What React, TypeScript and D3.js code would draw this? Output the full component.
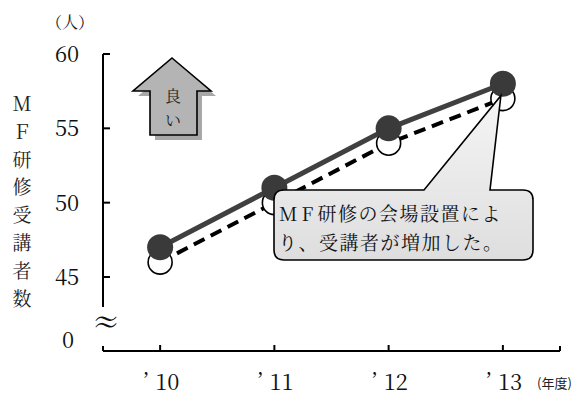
import React from "react";
import * as d3 from "d3";

// 年度ラベルと受講者数（人）
const years = ["10", "11", "12", "13"];
const attendees = [47, 51, 55, 58]; // 実線・黒丸
const baseline = [46, 50, 54, 57]; // 破線・白丸
const yTicks = [45, 50, 55, 60];
const yTitleChars = ["Ｍ", "Ｆ", "研", "修", "受", "講", "者", "数"];
const calloutLines = ["研修の会場設置によ", "り、受講者が増加した。"];

const W = 584;
const H = 398;
const MINCHO = "Noto Serif CJK JP, Liberation Serif, serif";
const GOTHIC = "Noto Sans CJK JP, Liberation Sans, sans-serif";

export default function App() {
  const x = d3.scalePoint<string>().domain(years).range([103, 560]).padding(0.5);
  const y = d3.scaleLinear().domain([45, 60]).range([277, 54]);

  const line = d3
    .line<number>()
    .x((_, i) => x(years[i]) as number)
    .y((d) => y(d));

  const axisY = 351;
  const tipX = (x(years[3]) as number) - 2;
  const tipY = y(attendees[3]) + 12;

  // 吹き出し（角丸四角形＋先端）
  const bx0 = 274, bx1 = 533, by0 = 190, by1 = 260, r = 10;
  const calloutPath = [
    `M${bx0 + r},${by0}`,
    `L424,${by0}`,
    `L${tipX},${tipY}`,
    `L490,${by0}`,
    `L${bx1 - r},${by0}`,
    `Q${bx1},${by0} ${bx1},${by0 + r}`,
    `L${bx1},${by1 - r}`,
    `Q${bx1},${by1} ${bx1 - r},${by1}`,
    `L${bx0 + r},${by1}`,
    `Q${bx0},${by1} ${bx0},${by1 - r}`,
    `L${bx0},${by0 + r}`,
    `Q${bx0},${by0} ${bx0 + r},${by0}`,
    "Z",
  ].join(" ");

  // 「良い」矢印
  const arrowPts: [number, number][] = [
    [172, 58],
    [211, 91],
    [197, 91],
    [197, 135],
    [150, 135],
    [150, 91],
    [133, 91],
  ];
  const arrowPath = "M" + arrowPts.map((p) => p.join(",")).join(" L") + " Z";
  const shadowPath =
    "M" + arrowPts.map((p) => [p[0] + 5, p[1] + 5].join(",")).join(" L") + " Z";

  const mincho = { fontFamily: MINCHO };
  const gothic = { fontFamily: GOTHIC };

  return (
    <svg
      width={W}
      height={H}
      viewBox={`0 0 ${W} ${H}`}
      style={{ position: "absolute", left: 0, top: 0, background: "#fff" }}
    >
      <defs>
        <linearGradient id="calloutFill" x1="0" y1="0" x2="0" y2="1">
          <stop offset="0" stopColor="#f5f5f5" />
          <stop offset="1" stopColor="#dedede" />
        </linearGradient>
      </defs>

      {/* 単位 */}
      <text x={70} y={28} style={mincho} fontSize={16} textAnchor="middle" fill="#111">
        （人）
      </text>

      {/* 縦軸タイトル */}
      {yTitleChars.map((c, i) => (
        <text
          key={c + i}
          x={22}
          y={111 + i * 27.8}
          style={mincho}
          fontSize={19}
          textAnchor="middle"
          fill="#222"
        >
          {c}
        </text>
      ))}

      {/* 縦軸 */}
      <line x1={103} x2={103} y1={y(60)} y2={307} stroke="#000" strokeWidth={2} />
      {yTicks.map((t) => (
        <g key={t}>
          <line x1={103} x2={110} y1={y(t)} y2={y(t)} stroke="#000" strokeWidth={2} />
          <text x={67} y={y(t) + 8} style={mincho} fontSize={22} textAnchor="middle" fill="#111">
            {t}
          </text>
        </g>
      ))}
      <text x={106} y={333} style={mincho} fontSize={30} textAnchor="middle" fill="#111">
        ≈
      </text>
      <text x={68} y={348} style={mincho} fontSize={22} textAnchor="middle" fill="#111">
        0
      </text>

      {/* 横軸 */}
      <line x1={103} x2={560} y1={axisY} y2={axisY} stroke="#000" strokeWidth={2} />
      <line x1={103} x2={103} y1={axisY - 5} y2={axisY} stroke="#000" strokeWidth={2} />
      <line x1={560} x2={560} y1={axisY - 5} y2={axisY} stroke="#000" strokeWidth={2} />
      {years.map((yr) => (
        <g key={yr}>
          <line x1={x(yr)} x2={x(yr)} y1={axisY - 6} y2={axisY} stroke="#000" strokeWidth={2} />
          <text x={(x(yr) as number) - 17} y={389} style={mincho} fontSize={22} fill="#111">
            ’
          </text>
          <text x={(x(yr) as number) - 5} y={390} style={mincho} fontSize={22} fill="#111">
            {yr}
          </text>
        </g>
      ))}
      <text x={537} y={388} style={gothic} fontSize={13} fill="#222">
        (年度)
      </text>

      {/* 破線系列 */}
      <path
        d={line(baseline) ?? ""}
        fill="none"
        stroke="#000"
        strokeWidth={4}
        strokeDasharray="12 7"
      />
      {baseline.map((v, i) => (
        <circle
          key={"b" + i}
          cx={x(years[i])}
          cy={y(v)}
          r={12}
          fill="#fff"
          stroke="#000"
          strokeWidth={1.6}
        />
      ))}

      {/* 実線系列 */}
      <path d={line(attendees) ?? ""} fill="none" stroke="#404040" strokeWidth={5} />
      {attendees.map((v, i) => (
        <circle key={"a" + i} cx={x(years[i])} cy={y(v)} r={13} fill="#3a3a3a" />
      ))}

      {/* 吹き出し */}
      <path d={calloutPath} fill="url(#calloutFill)" stroke="#000" strokeWidth={1.6} />
      <text x={279} y={221} style={mincho} fontSize={19} fill="#111" letterSpacing={1.5}>
        <tspan letterSpacing={4}>MF</tspan>
        <tspan>{calloutLines[0]}</tspan>
      </text>
      <text x={278} y={250} style={mincho} fontSize={19} fill="#111" letterSpacing={1.5}>
        {calloutLines[1]}
      </text>

      {/* 矢印 */}
      <path d={shadowPath} fill="#a8a8a8" />
      <path d={arrowPath} fill="#b4b4b4" stroke="#000" strokeWidth={1.6} />
      <text x={173} y={102} style={mincho} fontSize={16} textAnchor="middle" fill="#222">
        良
      </text>
      <text x={173} y={126} style={mincho} fontSize={16} textAnchor="middle" fill="#222">
        い
      </text>
    </svg>
  );
}
